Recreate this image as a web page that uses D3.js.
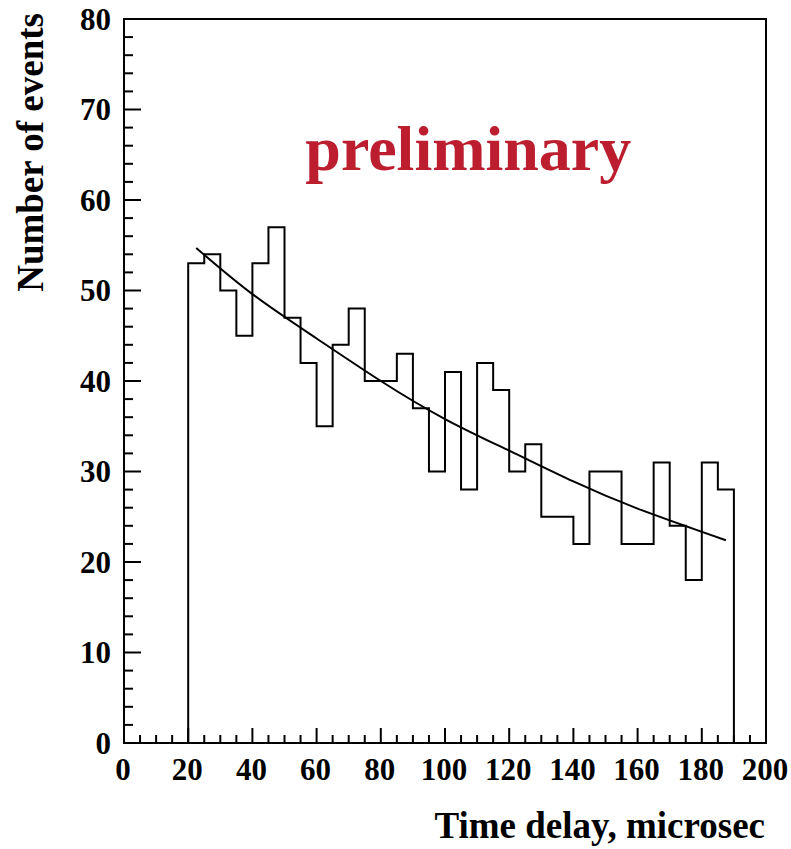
<!DOCTYPE html>
<html>
<head>
<meta charset="utf-8">
<script src="https://cdn.jsdelivr.net/npm/d3@7"></script>
<style>
    body { margin: 0; background: #fff; }
    svg { display: block; }
    .axis-text { font-family: "Liberation Serif", "Times New Roman", serif; font-weight: bold; fill: #000; }
</style>
</head>
<body>
<div id="chart"></div>
<script>
// bin lower edges (microsec), bin width 5
const binStarts = [20, 25, 30, 35, 40, 45, 50, 55, 60, 65, 70, 75, 80, 85, 90, 95, 100,
    105, 110, 115, 120, 125, 130, 135, 140, 145, 150, 155, 160, 165, 170, 175, 180, 185]
const binWidth = 5
const counts = [53, 54, 50, 45, 53, 57, 47, 42, 35, 44, 48, 40, 40, 43, 37, 30, 41,
    28, 42, 39, 30, 33, 25, 25, 22, 30, 30, 22, 22, 31, 24, 18, 31, 28]

// fit curve, points
const fitX = [22.5, 40, 60, 80, 100, 120, 140, 160, 187.5]
const fitY = [54.7, 49.6, 44.7, 40.0, 35.8, 32.3, 28.9, 25.9, 22.4]

const xTicks = [0, 20, 40, 60, 80, 100, 120, 140, 160, 180, 200]
const yTicks = [0, 10, 20, 30, 40, 50, 60, 70, 80]

const W = 791, H = 849
const margin = { left: 124, right: 25, top: 19, bottom: 106 }
const width = W - margin.left - margin.right
const height = H - margin.top - margin.bottom

/* SVG ELEMENT */
const svg = d3.select("#chart")
    .append("svg")
    .attr("width", W)
    .attr("height", H)
    .append("g")
    .attr("transform", `translate(${margin.left}, ${margin.top})`)

const x = d3.scaleLinear().domain([0, 200]).range([0, width])
const y = d3.scaleLinear().domain([0, 80]).range([height, 0])

/* FRAME */
svg.append("rect")
    .attr("x", 0)
    .attr("y", 0)
    .attr("width", width)
    .attr("height", height)
    .attr("fill", "none")
    .attr("stroke", "#000")
    .attr("stroke-width", 2)

/* TICKS (inside, ROOT style) */
const xMinor = d3.range(0, 201, 5)
const yMinor = d3.range(0, 81, 2)

svg.selectAll(".x-tick")
    .data(xMinor)
    .enter()
    .append("line")
    .attr("x1", d => x(d))
    .attr("x2", d => x(d))
    .attr("y1", height)
    .attr("y2", d => height - (d % 20 === 0 ? 15 : 8))
    .attr("stroke", "#000")
    .attr("stroke-width", 2)

svg.selectAll(".y-tick")
    .data(yMinor)
    .enter()
    .append("line")
    .attr("x1", 0)
    .attr("x2", d => (d % 10 === 0 ? 17 : 9))
    .attr("y1", d => y(d))
    .attr("y2", d => y(d))
    .attr("stroke", "#000")
    .attr("stroke-width", 2)

/* TICK LABELS */
svg.selectAll(".x-label")
    .data(xTicks)
    .enter()
    .append("text")
    .attr("class", "axis-text")
    .attr("x", d => x(d) - 1)
    .attr("y", height + 37)
    .attr("text-anchor", "middle")
    .style("font-size", "31px")
    .text(d => d)

svg.selectAll(".y-label")
    .data(yTicks)
    .enter()
    .append("text")
    .attr("class", "axis-text")
    .attr("x", -13)
    .attr("y", d => y(d))
    .attr("dy", "0.35em")
    .attr("text-anchor", "end")
    .style("font-size", "31px")
    .text(d => d)

/* AXIS TITLES */
svg.append("text")
    .attr("class", "axis-text")
    .attr("x", width - 1)
    .attr("y", height + 95)
    .attr("text-anchor", "end")
    .style("font-size", "37px")
    .text("Time delay, microsec")

svg.append("text")
    .attr("class", "axis-text")
    .attr("transform", `translate(${43 - margin.left}, ${-6}) rotate(-90)`)
    .attr("text-anchor", "end")
    .style("font-size", "37px")
    .text("Number of events")

/* HISTOGRAM (step outline) */
const bins = binStarts.map((b, i) => ({ x0: b, x1: b + binWidth, n: counts[i] }))
const steps = [[bins[0].x0, 0]]
bins.forEach(d => {
    steps.push([d.x0, d.n])
    steps.push([d.x1, d.n])
})
steps.push([bins[bins.length - 1].x1, 0])

svg.append("path")
    .datum(steps)
    .attr("d", d3.line().x(d => x(d[0])).y(d => y(d[1])))
    .attr("fill", "none")
    .attr("stroke", "#000")
    .attr("stroke-width", 2)

/* FIT CURVE */
const fit = fitX.map((v, i) => [v, fitY[i]])
svg.append("path")
    .datum(fit)
    .attr("d", d3.line().x(d => x(d[0])).y(d => y(d[1])).curve(d3.curveNatural))
    .attr("fill", "none")
    .attr("stroke", "#000")
    .attr("stroke-width", 2)

/* WATERMARK */
svg.append("text")
    .attr("x", x(56.5))
    .attr("y", y(63.3))
    .attr("font-family", "Liberation Serif, Times New Roman, serif")
    .attr("font-weight", "bold")
    .style("font-size", "64px")
    .attr("fill", "#bd1e2f")
    .text("preliminary")
</script>
</body>
</html>
